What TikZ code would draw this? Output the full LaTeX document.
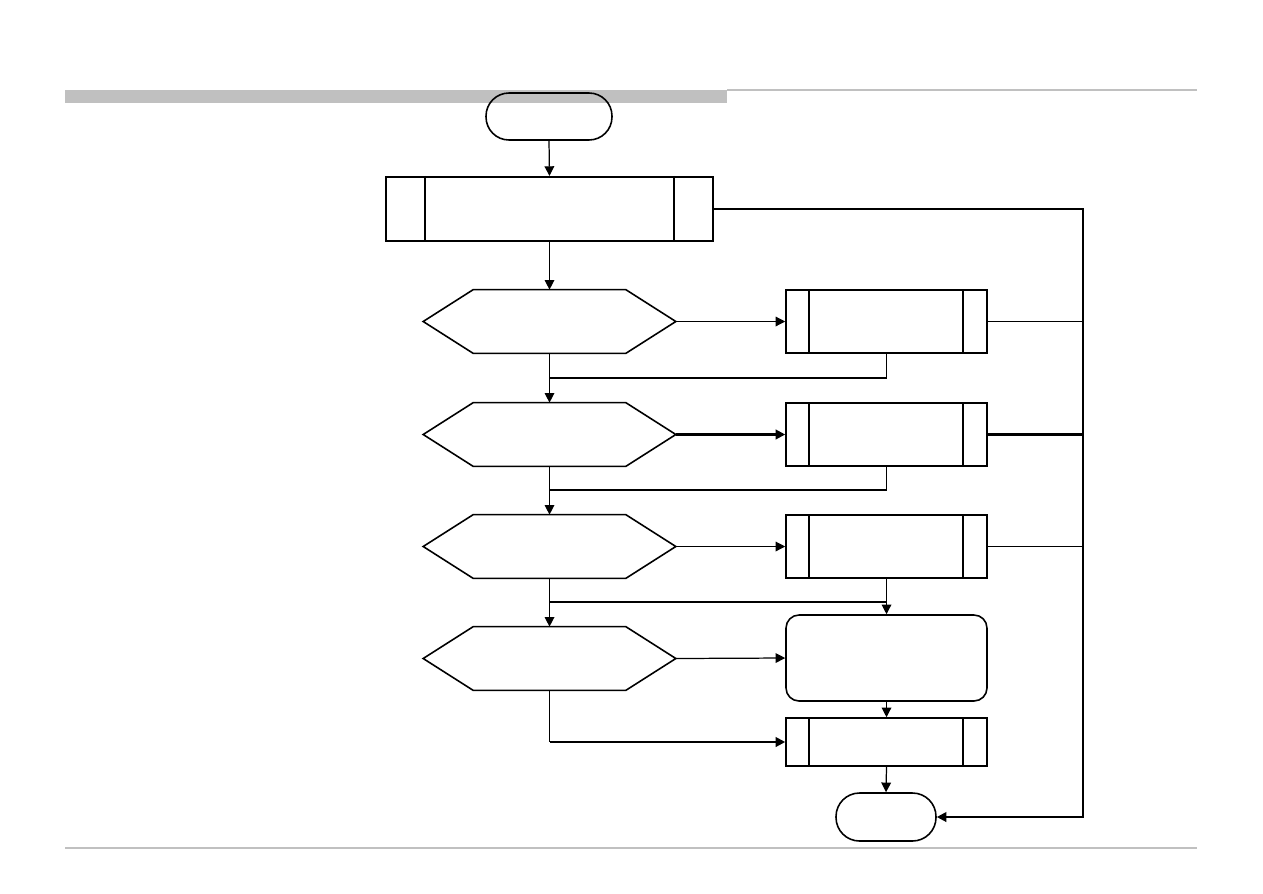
\documentclass[tikz,border=0pt]{standalone}
\usetikzlibrary{arrows.meta}
\definecolor{barg}{RGB}{192,192,192}
\begin{document}
\begin{tikzpicture}[x=0.02cm,y=-0.02cm,
  shapeline/.style={line width=0.9pt},
  term/.style={draw, shapeline, inner sep=0pt, minimum width=2.52cm, minimum height=0.94cm, rounded corners=0.46cm},
  predef/.style={draw, shapeline, inner sep=0pt, minimum width=4.02cm, minimum height=1.26cm},
  hexbox/.style={inner sep=0pt, minimum width=5.04cm, minimum height=1.26cm},
  thin/.style={line width=0.7pt},
  thickc/.style={line width=1.2pt},
  arr/.style={-{Triangle[length=5.5pt,width=5.5pt]}},
]
\useasboundingbox (0,0) rectangle (1263,893);
% page decoration
\fill[barg] (65,90) rectangle (727,103);
\draw[barg, line width=0.6pt] (727,90) -- (1197,90);
\draw[barg, line width=0.8pt] (65,848) -- (1197,848);

% nodes
\node[term] (start) at (549,116.5) {};
\node[predef, line width=1.2pt, minimum width=6.54cm, minimum height=1.28cm] (big) at (549.5,209) {};
\draw[shapeline] ([xshift=0.8cm]big.north west) -- ([xshift=0.8cm]big.south west);
\draw[shapeline] ([xshift=-0.8cm]big.north east) -- ([xshift=-0.8cm]big.south east);

\foreach \n/\y in {h1/321.5, h2/434.5, h3/546.5, h4/658.5} {
  \node[hexbox] (\n) at (549.5,\y) {};
  \draw[shapeline] (\n.west) -- ([xshift=1cm]\n.north west) -- ([xshift=-1cm]\n.north east)
     -- (\n.east) -- ([xshift=-1cm]\n.south east) -- ([xshift=1cm]\n.south west) -- cycle;
}
\foreach \n/\y in {p1/321.5, p2/434.5, p3/546.5} {
  \node[predef] (\n) at (886.5,\y) {};
  \draw[shapeline] ([xshift=0.48cm]\n.north west) -- ([xshift=0.48cm]\n.south west);
  \draw[line width=1.2pt] ([xshift=-0.5cm]\n.north east) -- ([xshift=-0.5cm]\n.south east);
}
\node[draw, shapeline, inner sep=0pt, minimum width=4.02cm, minimum height=1.72cm, rounded corners=0.26cm] (r) at (886.5,658) {};
\node[predef, minimum height=0.96cm] (p5) at (886.5,742) {};
\draw[shapeline] ([xshift=0.48cm]p5.north west) -- ([xshift=0.48cm]p5.south west);
\draw[line width=1.2pt] ([xshift=-0.5cm]p5.north east) -- ([xshift=-0.5cm]p5.south east);
\node[term, minimum width=2cm, minimum height=0.96cm, rounded corners=0.47cm] (end) at (886,817) {};

% helper coordinates
\coordinate (bus) at (1083,0);
\coordinate (j1) at (549.5,378);
\coordinate (j2) at (549.5,490);
\coordinate (j3) at (549.5,602);

% connectors
\draw[thin,arr] (start.south) -- (big.north);
\draw[thin,arr] (big.south) -- (h1.north);
\draw[thin,arr] (h1.east) -- (p1.west);
\draw[thickc,arr] (h2.east) -- (p2.west);
\draw[thin,arr] (h3.east) -- (p3.west);
\draw[thin,arr] (h4.east) -- (r.west);

\draw[thin,arr] (h1.south) -- (h2.north);
\draw[thin,arr] (h2.south) -- (h3.north);
\draw[thin,arr] (h3.south) -- (h4.north);
\draw[thin] (p1.south) -- (p1.south |- j1);
\draw[thickc] (p1.south |- j1) -- (j1);
\draw[thin] (p2.south) |- (j2);
\draw[thin,arr] (p3.south) -- (r.north);
\draw[thin] (j3) -- (j3 -| r.north);
\draw[thin] (h4.south) -- (h4.south |- p5.west);
\draw[thickc,arr] (h4.south |- p5.west) -- (p5.west);
\draw[thin,arr] (r.south) -- (p5.north);
\draw[thin,arr] (p5.south) -- (end.north);

\draw[thickc,arr] (big.east) -- (big.east -| bus) |- (end.east);
\draw[thin] (p1.east) -- (p1.east -| bus);
\draw[thickc] (p2.east) -- (p2.east -| bus);
\draw[thin] (p3.east) -- (p3.east -| bus);
\end{tikzpicture}
\end{document}
